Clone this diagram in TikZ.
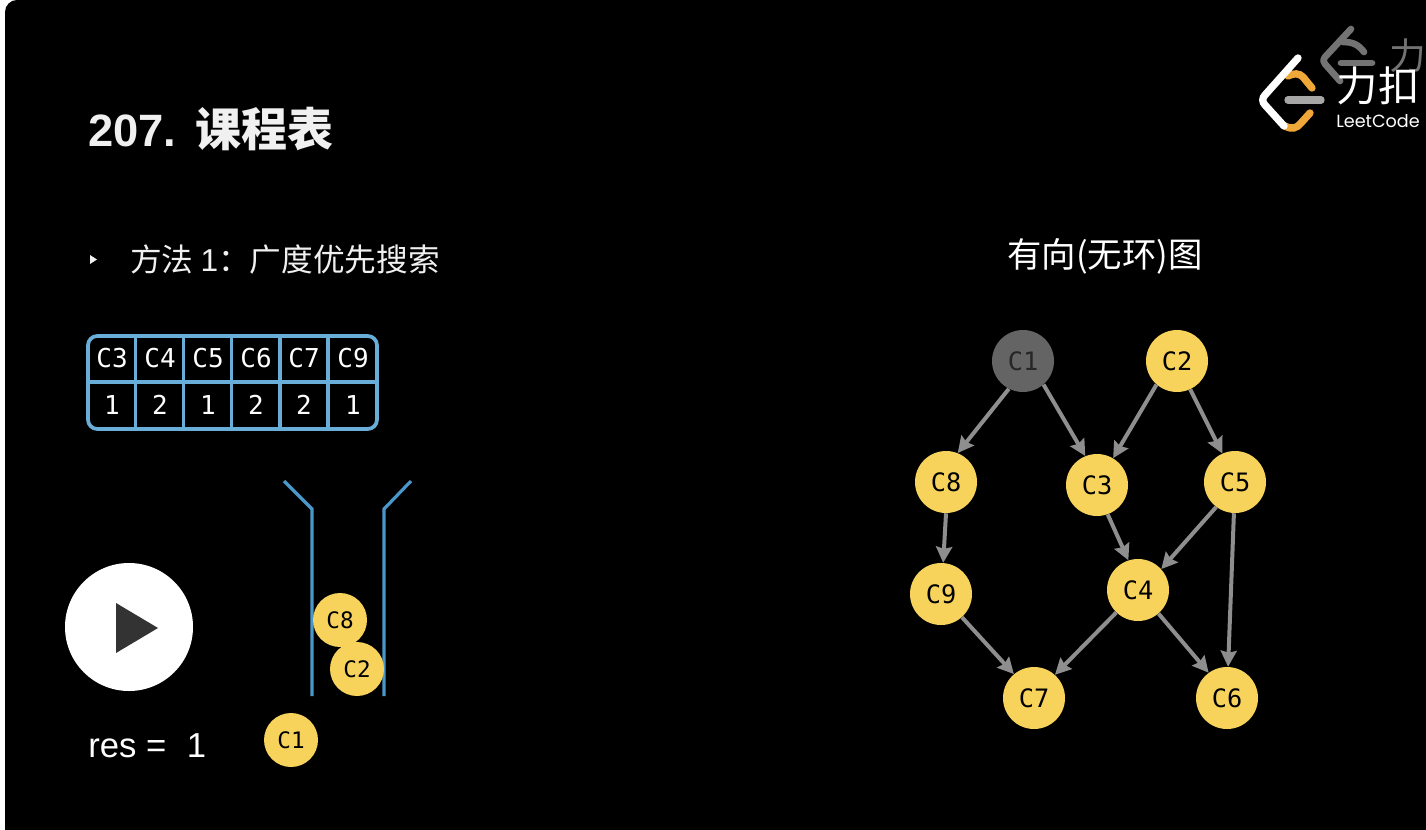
\documentclass[tikz,border=0pt]{standalone}
\usepackage{fontspec}
\setmainfont{Liberation Sans}
\newfontfamily\cjk{Noto Sans CJK SC}
\newfontfamily\cjkb{Noto Sans CJK SC Medium}
\newfontfamily\monof{DejaVu Sans Mono}
\newfontfamily\roundf{Poppins}
\usetikzlibrary{arrows.meta}
\definecolor{nodey}{HTML}{F7D35C}
\definecolor{tblue}{HTML}{69AED8}
\definecolor{fblue}{HTML}{4A97C9}
\definecolor{edgeg}{HTML}{8E8E8E}
\definecolor{greyn}{HTML}{646464}
\definecolor{lorange}{HTML}{F0A73A}
\definecolor{ltext}{HTML}{F0F0F0}
\tikzset{
  x=0.75pt,y=-0.75pt,
  big/.style={circle,fill=nodey,minimum size=46.5pt,inner sep=0pt,text=black,font=\monof\fontsize{19}{19}\selectfont},
  small/.style={circle,fill=nodey,minimum size=40.5pt,inner sep=0pt,text=black,font=\monof\fontsize{17}{17}\selectfont},
  cell/.style={inner sep=0pt,text=white,font=\monof\fontsize{19.5}{19}\selectfont},
  edge/.style={draw=edgeg,line width=3pt,-{Stealth[length=12pt,width=12pt,inset=1.5pt]},shorten <=0pt,shorten >=0pt},
  funnel/.style={draw=fblue,line width=2.4pt},
  grid/.style={draw=tblue,line width=2.8pt}
}
\begin{document}
\begin{tikzpicture}
\useasboundingbox (0,0) rectangle (1426,830);
\fill[white] (0,0) rectangle (1426,830);
\fill[black,rounded corners=9pt] (5,0) rectangle (1440,850);

% title and texts
\node[anchor=base west,inner sep=0pt,text=ltext,font=\bfseries\fontsize{34}{34}\selectfont] (title) at (88,147) {207.\hspace{14pt}{\cjkb\fontsize{34.5}{34}\selectfont 课程表}};
\fill[ltext] (90,255) -- (97,259.5) -- (90,264) -- cycle;
\node[anchor=base west,inner sep=0pt,text=ltext,font=\cjk\fontsize{23.75}{24}\selectfont] (method) at (130,272) {方法 {\fontspec{Liberation Sans}1}：广度优先搜索};
\node[anchor=base,inner sep=0pt,text=white,font=\cjk\fontsize{25.8}{26}\selectfont] (gtitle) at (1105,268) {有向({\cjk 无环})图};
\node[anchor=base west,inner sep=0pt,text=white,font=\fontsize{26}{26}\selectfont] (res) at (88,757) {res =\hspace{15.5pt}1};

% table
\draw[grid,rounded corners=7pt] (88,336) rectangle (377,429);
\draw[grid] (88,382) -- (377,382);
\foreach \x in {135.5,183.5,231.5,280,328} \draw[grid] (\x,336) -- (\x,429);
\foreach \x/\t/\n [count=\i] in {112/C3/1,160/C4/2,208/C5/1,256/C6/2,304/C7/2,353/C9/1}{
  \node[cell] (h\i) at (\x,358) {\t};
  \node[cell] (v\i) at (\x,405) {\n};
}

% funnel
\draw[funnel] (284,481) -- (312,509) -- (312,696);
\draw[funnel] (411,481) -- (384,509) -- (384,696);
\node[small] (q8) at (340,620) {C8};
\node[small] (q2) at (357,669) {C2};
\node[small] (q1) at (291,740) {C1};

% play button
\fill[white] (129,627) circle (64);
\fill[black!80] (116,603) -- (158,628) -- (116,653) -- cycle;

% graph
\node[big,fill=greyn,text=black!85] (C1) at (1023,361) {C1};
\node[big] (C2) at (1177,361) {C2};
\node[big] (C8) at (946,482) {C8};
\node[big] (C3) at (1097,485) {C3};
\node[big] (C5) at (1235,482) {C5};
\node[big] (C9) at (941,594) {C9};
\node[big] (C4) at (1138,590) {C4};
\node[big] (C7) at (1034,698) {C7};
\node[big] (C6) at (1227,698) {C6};
\draw[edge] (C1.-117) -- (C8.68);
\draw[edge] (C1.-49) -- (C3.112);
\draw[edge] (C2.-131) -- (C3.59);
\draw[edge] (C2.-65) -- (C5.114);
\draw[edge] (C8.-90) -- (C9.86);
\draw[edge] (C3.-70) -- (C4.108);
\draw[edge] (C5.-127) -- (C4.42);
\draw[edge] (C5.-92) -- (C6.88);
\draw[edge] (C9.-48) -- (C7.130);
\draw[edge] (C4.-134) -- (C7.48);
\draw[edge] (C4.-49) -- (C6.126);

% logo: faint copy behind
\draw[draw=black!55,line width=5pt,line cap=round,line join=round] (1351,29) -- (1325,57) .. controls (1323,60) and (1323,62) .. (1325,64) -- (1340,81);
\draw[draw=black!55,line width=5pt,line cap=round] (1343,42) .. controls (1352,42) and (1358,44) .. (1364,52);
\draw[draw=black!55,line width=5pt,line cap=round] (1341,63) -- (1372,63);
\node[anchor=center,inner sep=0pt,text=black!55,font=\cjk\fontsize{27.5}{27}\selectfont] (wm) at (1408,56) {力};
% logo: front
\draw[draw=lorange,line width=5.5pt,line cap=round] (1288,76) .. controls (1294,73) and (1299,73) .. (1303,77) -- (1312,88);
\draw[draw=lorange,line width=5.5pt,line cap=round] (1285,126) .. controls (1292,130) and (1297,128) .. (1301,123) -- (1310,113);
\draw[draw=white,line width=5.5pt,line cap=round,line join=round] (1298,58) -- (1265,95) .. controls (1262,98) and (1262,102) .. (1265,105) -- (1284,126);
\draw[draw=black!35,line width=5.5pt,line cap=round] (1288,100) -- (1321,100);
\node[anchor=center,inner sep=0pt,text=white,font=\cjk\fontsize{31}{31}\selectfont] (fl) at (1378,86) {力扣};
\node[anchor=center,inner sep=0pt,text=white,font=\roundf\fontsize{13.2}{14}\selectfont] (lc) at (1378,121) {LeetCode};
\end{tikzpicture}
\end{document}
